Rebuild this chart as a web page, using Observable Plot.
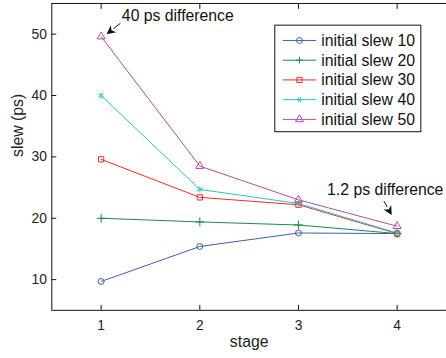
<!DOCTYPE html>
<html><head><meta charset="utf-8">
<script src="https://cdn.jsdelivr.net/npm/d3@7"></script>
<script src="https://cdn.jsdelivr.net/npm/@observablehq/plot@0.6"></script>
<style>
html,body{margin:0;padding:0;background:#fff;overflow:hidden;width:446px;height:358px;}
#chart{position:relative;width:446px;height:358px;overflow:hidden;}
svg{font-family:"Liberation Sans",Arial,Helvetica,sans-serif;}
</style></head>
<body><div id="chart"></div>
<script>
const stages = [1, 2, 3, 4];
const seriesNames = ["initial slew 10","initial slew 20","initial slew 30","initial slew 40","initial slew 50"];
const slew10 = [9.7, 15.4, 17.6, 17.5];
const slew20 = [20.0, 19.4, 18.9, 17.5];
const slew30 = [29.6, 23.4, 22.2, 17.5];
const slew40 = [40.0, 24.7, 22.4, 17.6];
const slew50 = [49.6, 28.5, 23.0, 18.7];
const colors = ["#3c5daa","#17884a","#ee2a2a","#2fc0c0","#a94ca8"];
const symbols = ["circle","plus","square","asterisk","triangle"];
const yTicks = [10, 20, 30, 40, 50];
const xLabel = "stage";
const yLabel = "slew (ps)";
const notes = [
  {stage: 1, value: 49.6, text: "40 ps difference"},
  {stage: 4, value: 18.7, text: "1.2 ps difference"}
];

const allSeries = [slew10, slew20, slew30, slew40, slew50];
const data = [];
allSeries.forEach((vals, i) => vals.forEach((v, j) => data.push({series: seriesNames[i], stage: stages[j], value: v})));

const noteOffsets = [ {tx: 21, ty: -16, ax1: 20, ay1: -13, ax2: 6, ay2: -2},
                      {tx: -71, ty: -32, ax1: -13, ay1: -25, ax2: -5, ay2: -11} ];

const noteMarks = notes.map((n, i) => Plot.text([n], {x: "stage", y: "value", text: "text", textAnchor: "start", lineAnchor: "bottom",
  fontSize: 16, fill: "#111", dx: noteOffsets[i].tx, dy: noteOffsets[i].ty}));

const plot = Plot.plot({
  width: 452, height: 358,
  marginLeft: 52, marginTop: 3, marginBottom: 44, marginRight: 0,
  style: {fontFamily: '"Liberation Sans",Arial,Helvetica,sans-serif', fontSize: "14px", color: "#222", background: "#fff"},
  x: {domain: [0.5, 4.5]},
  y: {domain: [5, 55]},
  color: {domain: seriesNames, range: colors},
  symbol: {domain: seriesNames, range: symbols},
  marks: [
    Plot.frame({stroke: "#111", strokeWidth: 1}),
    Plot.axisX({anchor: "bottom", ticks: stages, tickFormat: d3.format("d"), tickSize: -5, tickPadding: 15, fontSize: 14, label: null, stroke: "#111", fill: "#222"}),
    Plot.axisX({anchor: "top", ticks: stages, tickSize: -5, tickFormat: () => "", label: null, stroke: "#111"}),
    Plot.axisY({anchor: "left", ticks: yTicks, tickSize: -5, tickPadding: 10, fontSize: 14, label: null, stroke: "#111", fill: "#222"}),
    Plot.text([xLabel], {frameAnchor: "bottom", text: d => d, dy: 37, fontSize: 16, fill: "#222"}),
    Plot.text([yLabel], {frameAnchor: "left", text: d => d, rotate: -90, dx: -34, fontSize: 16, fill: "#222"}),
    Plot.line(data, {x: "stage", y: "value", z: "series", stroke: "series", strokeWidth: 1}),
    Plot.dot(data, {x: "stage", y: "value", symbol: "series", stroke: "series", fill: "none", r: 3, strokeWidth: 1}),
    ...noteMarks
  ]
});
document.getElementById("chart").appendChild(plot);

const sx = plot.scale("x"), sy = plot.scale("y");
const svg = d3.select(plot);
const ag = svg.append("g");
notes.forEach((n, i) => {
  const o = noteOffsets[i];
  const px = sx.apply(n.stage), py = sy.apply(n.value);
  const x1 = px + o.ax1, y1 = py + o.ay1, x2 = px + o.ax2, y2 = py + o.ay2;
  const ang = Math.atan2(y2 - y1, x2 - x1);
  const L = 9, W = 4.5;
  const bx = x2 - L * Math.cos(ang), by = y2 - L * Math.sin(ang);
  const nx = -Math.sin(ang), ny = Math.cos(ang);
  ag.append("line").attr("x1", x1).attr("y1", y1).attr("x2", bx).attr("y2", by).attr("stroke", "#111").attr("stroke-width", 1);
  const ix = x2 - 0.7 * L * Math.cos(ang), iy = y2 - 0.7 * L * Math.sin(ang);
  ag.append("path").attr("d", `M${x2},${y2}L${bx + nx * W},${by + ny * W}L${ix},${iy}L${bx - nx * W},${by - ny * W}Z`).attr("fill", "#111");
});

// legend
const lg = svg.append("g").attr("transform", "translate(278.5,25.5)");
lg.append("rect").attr("width", 148).attr("height", 108).attr("fill", "#fff").attr("stroke", "#111").attr("stroke-width", 1);
const symGen = {
  circle: d3.symbol(d3.symbolCircle, Math.PI * 9)(),
  square: d3.symbol(d3.symbolSquare, Math.PI * 9)(),
  triangle: d3.symbol(d3.symbolTriangle, Math.PI * 9)(),
  plus: "M-3.5,0H3.5M0,-3.5V3.5",
  asterisk: "M-3,0H3M-1.5,-2.6L1.5,2.6M-1.5,2.6L1.5,-2.6"
};
seriesNames.forEach((name, i) => {
  const y = 15.5 + i * 20;
  const row = lg.append("g").attr("transform", `translate(0,${y})`);
  row.append("line").attr("x1", 8).attr("x2", 42).attr("y1", 0).attr("y2", 0).attr("stroke", colors[i]).attr("stroke-width", 1);
  row.append("path").attr("d", symGen[symbols[i]]).attr("transform", "translate(25,0)").attr("fill", "none").attr("stroke", colors[i]).attr("stroke-width", 1);
  row.append("text").attr("x", 47).attr("y", 0).attr("dy", "0.35em").attr("text-anchor", "start").attr("font-size", 16).attr("fill", "#111").text(name);
});
</script></body></html>
